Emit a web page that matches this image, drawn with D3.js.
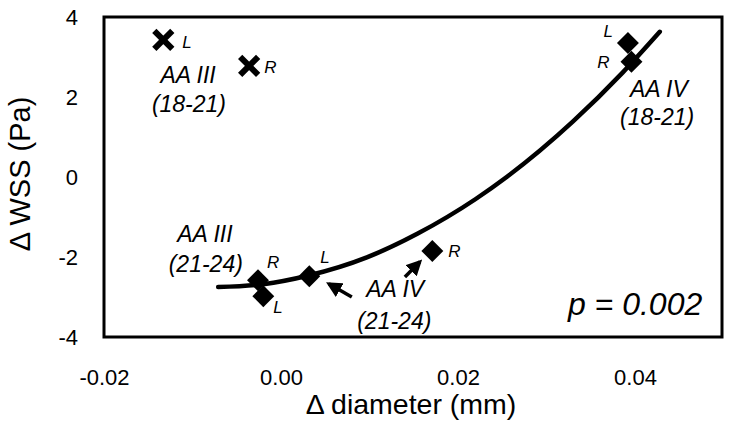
<!DOCTYPE html>
<html>
<head>
<meta charset="utf-8">
<script src="https://cdn.jsdelivr.net/npm/d3@7"></script>
<style>
  html, body { margin: 0; padding: 0; background: #fff; }
  svg { display: block; }
  text { font-family: "Liberation Sans", Arial, sans-serif; fill: #000; }
</style>
</head>
<body>
<svg id="chart" width="730" height="436"></svg>
<script>
// ---- data ----
const xTicks = [-0.02, 0.00, 0.02, 0.04];
const yTicks = [-4, -2, 0, 2, 4];
const xTitle = "\u0394 diameter (mm)";
const yTitle = "\u0394 WSS (Pa)";

// diamonds (AA III 21-24, AA IV 21-24, AA IV 18-21)
const diamondX = [-0.0026, -0.0020, 0.0032, 0.0171, 0.0392, 0.0396];
const diamondY = [-2.58, -2.98, -2.48, -1.85, 3.35, 2.88];
const diamondSide = ["R", "L", "L", "R", "L", "R"];

// crosses (AA III 18-21)
const crossX = [-0.0133, -0.0036];
const crossY = [3.43, 2.78];
const crossSide = ["L", "R"];

// trend curve
const trendX = [-0.0071, -0.0020, 0.0030, 0.0097, 0.0154, 0.0220, 0.0255, 0.0330, 0.0386, 0.0428];
const trendY = [-2.75, -2.68, -2.47, -2.01, -1.42, -0.55, 0.00, 1.39, 2.61, 3.63];

// group labels
const groupText = ["AA III", "(18-21)", "AA III", "(21-24)", "AA IV", "(21-24)", "AA IV", "(18-21)"];
const groupX = [-0.0105, -0.0104, -0.0086, -0.0085, 0.0129, 0.0128, 0.0427, 0.0425];
const groupY = [2.35, 1.62, -1.62, -2.38, -3.00, -3.80, 2.00, 1.30];

const pText = "p = 0.002";

// ---- layout ----
const svg = d3.select("#chart");
const x = d3.scaleLinear().domain([-0.02, 0.05]).range([104, 723.5]);
const y = d3.scaleLinear().domain([-4, 4]).range([337, 17]);
const hyphen = f => d => f(d).replace("\u2212", "-");

// frame
svg.append("rect")
  .attr("x", x(-0.02)).attr("y", y(4))
  .attr("width", x(0.05) - x(-0.02) - 1.5).attr("height", y(-4) - y(4))
  .attr("fill", "none").attr("stroke", "#000").attr("stroke-width", 3);

// axes
const xAxis = svg.append("g").attr("transform", `translate(0,${y(-4)})`)
  .call(d3.axisBottom(x).tickValues(xTicks).tickFormat(hyphen(d3.format(".2f"))).tickSize(0).tickPadding(32));
const yAxis = svg.append("g").attr("transform", `translate(${x(-0.02)},0)`)
  .call(d3.axisLeft(y).tickValues(yTicks).tickFormat(hyphen(d3.format("d"))).tickSize(0).tickPadding(26));
[xAxis, yAxis].forEach(g => {
  g.select(".domain").remove();
  g.selectAll("text").style("font-family", '"Liberation Sans", Arial, sans-serif')
    .style("font-size", "22px").attr("fill", "#000");
});

// axis titles
svg.append("text").attr("x", 411).attr("y", 414).attr("text-anchor", "middle")
  .style("font-size", "28.5px").text(xTitle);
svg.append("text").attr("transform", "translate(30,174) rotate(-90)").attr("text-anchor", "middle")
  .style("font-size", "29px").text(yTitle);

// trend line
const trend = trendX.map((d, i) => [d, trendY[i]]);
svg.append("path").datum(trend)
  .attr("d", d3.line().x(d => x(d[0])).y(d => y(d[1])).curve(d3.curveMonotoneX))
  .attr("fill", "none").attr("stroke", "#000").attr("stroke-width", 4.5).attr("stroke-linecap", "round");

// diamonds
const diamonds = diamondX.map((d, i) => ({ x: d, y: diamondY[i], s: diamondSide[i] }));
svg.append("g").selectAll("path").data(diamonds).join("path")
  .attr("transform", d => `translate(${x(d.x)},${y(d.y)}) rotate(45)`)
  .attr("d", d3.symbol(d3.symbolSquare, 240))
  .attr("fill", "#000");

// crosses
const crosses = crossX.map((d, i) => ({ x: d, y: crossY[i], s: crossSide[i] }));
const h = 9;
svg.append("g").selectAll("path").data(crosses).join("path")
  .attr("d", d => { const cx = x(d.x), cy = y(d.y);
    return `M${cx - h},${cy - h}L${cx + h},${cy + h}M${cx - h},${cy + h}L${cx + h},${cy - h}`; })
  .attr("stroke", "#000").attr("stroke-width", 6).attr("fill", "none");

// L / R side labels (pixel offsets from the marker)
const sideOffsets = [[9, -12, "start"], [10, 17, "start"], [11, -13, "start"], [16, 6, "start"],
                     [-15, -6, "end"], [-22, 6, "end"]];
svg.append("g").selectAll("text").data(diamonds).join("text")
  .attr("x", (d, i) => x(d.x) + sideOffsets[i][0])
  .attr("y", (d, i) => y(d.y) + sideOffsets[i][1])
  .attr("text-anchor", (d, i) => sideOffsets[i][2])
  .style("font-size", "17px").style("font-style", "italic").text(d => d.s);
const crossOffsets = [[19, 8], [15, 7]];
svg.append("g").selectAll("text").data(crosses).join("text")
  .attr("x", (d, i) => x(d.x) + crossOffsets[i][0])
  .attr("y", (d, i) => y(d.y) + crossOffsets[i][1])
  .style("font-size", "17px").style("font-style", "italic").text(d => d.s);

// group labels
svg.append("g").selectAll("text").data(groupText).join("text")
  .attr("x", (d, i) => x(groupX[i])).attr("y", (d, i) => y(groupY[i]))
  .attr("text-anchor", "middle")
  .style("font-size", "23px").style("font-style", "italic").text(d => d);

// p value
svg.append("text").attr("x", x(0.0476)).attr("y", y(-3.45)).attr("text-anchor", "end")
  .style("font-size", "32px").style("font-style", "italic").text(pText);

// arrows
svg.append("defs").append("marker").attr("id", "ah")
  .attr("viewBox", "0 0 10 10").attr("refX", 8).attr("refY", 5)
  .attr("markerWidth", 4.5).attr("markerHeight", 4.5).attr("orient", "auto")
  .attr("markerUnits", "strokeWidth")
  .append("path").attr("d", "M0,0L10,5L0,10Z").attr("fill", "#000");
const arrows = [[0.0080, -3.00, 0.0054, -2.67], [0.0140, -2.50, 0.0157, -2.12]];
svg.append("g").selectAll("line").data(arrows).join("line")
  .attr("x1", d => x(d[0])).attr("y1", d => y(d[1]))
  .attr("x2", d => x(d[2])).attr("y2", d => y(d[3]))
  .attr("stroke", "#000").attr("stroke-width", 3.5).attr("marker-end", "url(#ah)");
</script>
</body>
</html>
